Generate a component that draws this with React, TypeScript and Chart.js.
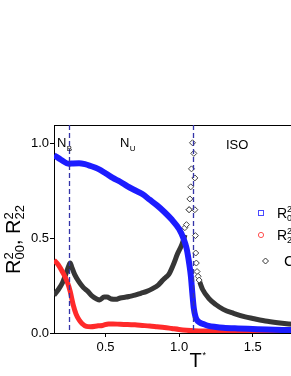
import React, { useEffect, useRef } from 'react';
import { Chart, registerables } from 'chart.js';

Chart.register(...registerables);

const FONT = '"Liberation Sans", Arial, sans-serif';

// R^2_00 (blue)
const tR00 = [0.15, 0.2, 0.25, 0.28, 0.32, 0.36, 0.4, 0.45, 0.5, 0.55, 0.6, 0.65, 0.7, 0.75, 0.8, 0.85, 0.9, 0.95, 1.0, 1.03, 1.05, 1.06, 1.07, 1.08, 1.09, 1.1, 1.11, 1.12, 1.14, 1.17, 1.2, 1.25, 1.3, 1.4, 1.5, 1.6, 1.7, 1.8, 1.9, 2.0, 2.1];
const r00 = [0.94, 0.915, 0.895, 0.897, 0.898, 0.893, 0.883, 0.868, 0.845, 0.82, 0.8, 0.775, 0.755, 0.735, 0.705, 0.675, 0.64, 0.6, 0.55, 0.5, 0.45, 0.41, 0.36, 0.3, 0.21, 0.13, 0.09, 0.07, 0.055, 0.046, 0.038, 0.032, 0.028, 0.024, 0.021, 0.018, 0.016, 0.015, 0.014, 0.013, 0.012];

// R^2_22 (red)
const tR22 = [0.15, 0.18, 0.21, 0.24, 0.26, 0.28, 0.3, 0.32, 0.34, 0.37, 0.4, 0.45, 0.48, 0.52, 0.55, 0.6, 0.65, 0.7, 0.75, 0.8, 0.85, 0.9, 0.95, 1.0, 1.05, 1.1, 1.2, 1.4, 1.6, 1.8, 2.0, 2.1];
const r22 = [0.385, 0.36, 0.32, 0.27, 0.22, 0.15, 0.1, 0.07, 0.05, 0.035, 0.033, 0.038, 0.04, 0.048, 0.048, 0.046, 0.045, 0.043, 0.04, 0.037, 0.033, 0.029, 0.024, 0.019, 0.015, 0.012, 0.01, 0.008, 0.008, 0.007, 0.007, 0.007];

// C (black) – low-T branch
const tC1 = [0.15, 0.18, 0.21, 0.23, 0.25, 0.26, 0.27, 0.29, 0.32, 0.35, 0.38, 0.41, 0.44, 0.46, 0.49, 0.51, 0.54, 0.57, 0.6, 0.64, 0.67, 0.7, 0.74, 0.78, 0.82, 0.86, 0.89, 0.91, 0.93, 0.96, 0.99, 1.02, 1.04];
const c1 = [0.2, 0.23, 0.27, 0.31, 0.355, 0.37, 0.35, 0.31, 0.27, 0.24, 0.22, 0.195, 0.18, 0.175, 0.19, 0.19, 0.18, 0.178, 0.185, 0.19, 0.195, 0.2, 0.21, 0.22, 0.235, 0.255, 0.28, 0.295, 0.31, 0.36, 0.42, 0.47, 0.52];
// C – scattered points around the transition
const tCPeak = [1.039, 1.05, 1.068, 1.073, 1.079, 1.084, 1.091, 1.1, 1.107, 1.068, 1.107, 1.111, 1.113, 1.117, 1.122, 1.129, 1.136];
const cPeak = [0.557, 0.573, 0.652, 0.709, 0.773, 0.868, 1.006, 0.95, 0.82, 0.652, 0.652, 0.515, 0.423, 0.37, 0.325, 0.3, 0.28];
// C – high-T branch
const tC2 = [1.14, 1.16, 1.2, 1.25, 1.3, 1.37, 1.45, 1.5, 1.6, 1.7, 1.8, 1.9, 2.0, 2.1];
const c2 = [0.27, 0.23, 0.185, 0.15, 0.125, 0.104, 0.085, 0.077, 0.062, 0.052, 0.045, 0.04, 0.036, 0.033];

const xTicks = [0.5, 1.0, 1.5, 2.0];
const yTicks = [0, 0.5, 1.0];
const phaseBoundaries = [0.254, 1.095];
const regionNames = ['N', 'N', 'ISO'];
const regionSubs = ['B', 'U', ''];
const regionT = [0.17, 0.598, 1.318];
const regionV = [0.984, 0.984, 0.973];

const pts = (xs: number[], ys: number[]) => xs.map((x, i) => ({ x, y: ys[i] }));

const decor = {
  id: 'decor',
  afterDraw(chart: any) {
    const { ctx, chartArea: a, scales } = chart;
    const xs = scales.x;
    const ys = scales.y;
    ctx.save();
    ctx.strokeStyle = '#000';
    ctx.lineWidth = 1;
    ctx.beginPath();
    ctx.moveTo(a.left, a.top + 0.5);
    ctx.lineTo(a.right - 0.5, a.top + 0.5);
    ctx.lineTo(a.right - 0.5, a.bottom);
    ctx.stroke();
    ctx.strokeStyle = '#3434a8';
    ctx.lineWidth = 1.3;
    ctx.setLineDash([5, 3]);
    phaseBoundaries.forEach((t) => {
      const px = Math.round(xs.getPixelForValue(t)) + 0.5;
      ctx.beginPath();
      ctx.moveTo(px, a.top);
      ctx.lineTo(px, a.bottom);
      ctx.stroke();
    });
    ctx.setLineDash([]);
    ctx.fillStyle = '#000';
    ctx.textAlign = 'left';
    ctx.textBaseline = 'alphabetic';
    regionNames.forEach((n, i) => {
      const px = xs.getPixelForValue(regionT[i]);
      const py = ys.getPixelForValue(regionV[i]);
      ctx.font = `13px ${FONT}`;
      ctx.fillText(n, px, py);
      const w = ctx.measureText(n).width;
      if (regionSubs[i]) {
        ctx.font = `8px ${FONT}`;
        ctx.fillText(regionSubs[i], px + w + 0.5, py + 4);
      }
    });
    ctx.font = `20px ${FONT}`;
    const wT = ctx.measureText('T').width;
    const cx = (a.left + a.right) / 2;
    ctx.fillText('T', cx - wT / 2 - 2, 367);
    ctx.font = `9px ${FONT}`;
    ctx.fillText('*', cx + wT / 2 - 1, 358);
    ctx.save();
    ctx.translate(20, 274);
    ctx.rotate(-Math.PI / 2);
    let xx = 0;
    const part = (main: string, sup: string, sub: string) => {
      ctx.font = `20px ${FONT}`;
      ctx.fillText(main, xx, 0);
      xx += ctx.measureText(main).width;
      ctx.font = `13px ${FONT}`;
      ctx.fillText(sup, xx, -7);
      ctx.fillText(sub, xx, 4);
      xx += Math.max(ctx.measureText(sup).width, ctx.measureText(sub).width);
    };
    part('R', '2', '00');
    ctx.font = `20px ${FONT}`;
    ctx.fillText(', ', xx, 0);
    xx += ctx.measureText(', ').width;
    part('R', '2', '22');
    ctx.restore();
    ctx.lineWidth = 1;
    ctx.strokeStyle = '#4a4aff';
    ctx.strokeRect(258.5, 210.5, 5, 5);
    ctx.strokeStyle = '#ff5050';
    ctx.beginPath();
    ctx.arc(261, 235, 2.6, 0, Math.PI * 2);
    ctx.stroke();
    ctx.strokeStyle = '#333';
    ctx.beginPath();
    ctx.moveTo(265.5, 258);
    ctx.lineTo(268.5, 261);
    ctx.lineTo(265.5, 264);
    ctx.lineTo(262.5, 261);
    ctx.closePath();
    ctx.stroke();
    const legText = (y0: number, sub: string) => {
      ctx.font = `14px ${FONT}`;
      ctx.fillText('R', 277, y0);
      const w = ctx.measureText('R').width;
      ctx.font = `9px ${FONT}`;
      ctx.fillText('2', 277 + w, y0 - 6);
      ctx.fillText(sub, 277 + w, y0 + 3);
    };
    ctx.fillStyle = '#000';
    legText(218, '00');
    legText(240, '22');
    ctx.font = `15px ${FONT}`;
    ctx.fillText('C', 284, 266);
    ctx.restore();
  },
};

export default function App() {
  const ref = useRef<HTMLCanvasElement | null>(null);
  useEffect(() => {
    if (!ref.current) return;
    const chart = new Chart(ref.current, {
      type: 'scatter',
      data: {
        datasets: [
          {
            label: 'R2_00',
            data: pts(tR00, r00),
            showLine: true,
            borderColor: '#1c1cff',
            borderWidth: 6,
            pointRadius: 0,
            cubicInterpolationMode: 'monotone',
            order: 0,
          },
          {
            label: 'R2_22',
            data: pts(tR22, r22),
            showLine: true,
            borderColor: '#ff2a2a',
            borderWidth: 5,
            pointRadius: 0,
            cubicInterpolationMode: 'monotone',
            order: 1,
          },
          {
            label: 'C',
            data: pts(tC1, c1),
            showLine: true,
            borderColor: '#363636',
            borderWidth: 5,
            pointRadius: 0,
            cubicInterpolationMode: 'monotone',
            order: 2,
          },
          {
            label: 'C peak',
            data: pts(tCPeak, cPeak),
            showLine: false,
            pointStyle: 'rectRot',
            pointRadius: 3,
            borderColor: '#444',
            backgroundColor: '#fff',
            borderWidth: 1,
            order: 2,
          },
          {
            label: 'C high',
            data: pts(tC2, c2),
            showLine: true,
            borderColor: '#363636',
            borderWidth: 5,
            pointRadius: 0,
            cubicInterpolationMode: 'monotone',
            order: 2,
          },
        ],
      },
      options: {
        animation: false,
        responsive: false,
        devicePixelRatio: 1,
        layout: { padding: { left: 0, top: 125, right: 19, bottom: 0 } },
        plugins: { legend: { display: false }, tooltip: { enabled: false } },
        scales: {
          x: {
            type: 'linear',
            min: 0.15,
            max: 2.1,
            afterBuildTicks: (s: any) => {
              s.ticks = xTicks.map((v) => ({ value: v }));
            },
            afterFit: (s: any) => {
              s.height = 43;
            },
            ticks: {
              callback: (v: any) => Number(v).toFixed(1),
              font: { family: FONT, size: 13 },
              color: '#000',
              padding: 3,
              maxRotation: 0,
              autoSkip: false,
            },
            grid: { drawOnChartArea: false, drawTicks: true, tickLength: 4, color: '#000' },
            border: { display: true, color: '#000', width: 1 },
          },
          y: {
            type: 'linear',
            min: 0,
            max: 1.1,
            afterBuildTicks: (s: any) => {
              s.ticks = yTicks.map((v) => ({ value: v }));
            },
            afterFit: (s: any) => {
              s.width = 54;
            },
            ticks: {
              callback: (v: any) => Number(v).toFixed(1),
              font: { family: FONT, size: 13 },
              color: '#000',
              padding: 1,
            },
            grid: { drawOnChartArea: false, drawTicks: true, tickLength: 4, color: '#000' },
            border: { display: true, color: '#000', width: 1 },
          },
        },
      },
      plugins: [decor],
    } as any);
    return () => chart.destroy();
  }, []);
  return (
    <div style={{ position: 'absolute', left: 0, top: 0, width: 291, height: 376, overflow: 'hidden', background: '#fff' }}>
      <canvas ref={ref} width={360} height={376} style={{ display: 'block', width: 360, height: 376 }} />
    </div>
  );
}
